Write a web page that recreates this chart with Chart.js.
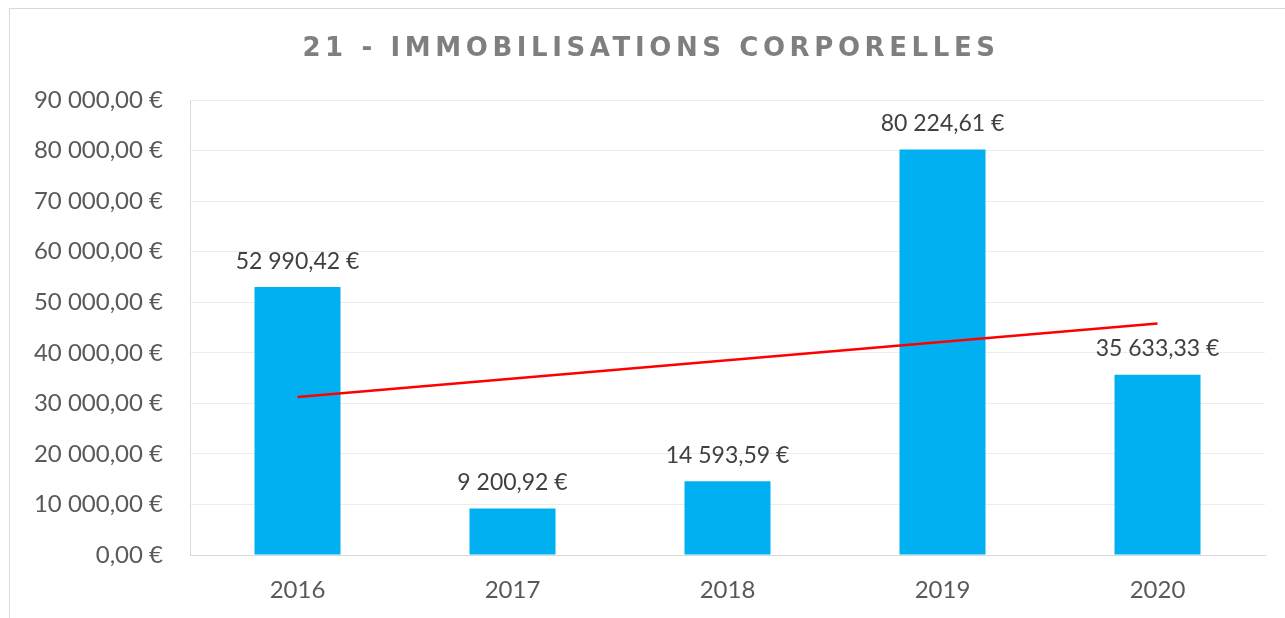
<!DOCTYPE html>
<html lang="fr">
<head>
<meta charset="utf-8">
<title>21 - Immobilisations corporelles</title>
<script src="https://cdn.jsdelivr.net/npm/chart.js@4"></script>
<style>
  html, body { margin: 0; padding: 0; background: #fff; }
  #frame {
    position: absolute; left: 9px; top: 8px;
    width: 1300px; height: 640px;
    border: 1px solid #d9d9d9;
  }
  #wrap { position: absolute; left: 0; top: 0; width: 1285px; height: 618px; }
</style>
</head>
<body>
<div id="frame"></div>
<div id="wrap"><canvas id="chart"></canvas></div>
<script>
// Data
const years = ['2016', '2017', '2018', '2019', '2020'];
const amounts = [52990.42, 9200.92, 14593.59, 80224.61, 35633.33];
// Linear trend line, end points
const trend = [31270, null, null, null, 45790];
const chartTitle = '21 - IMMOBILISATIONS CORPORELLES';
const yMax = 90000;
const yStep = 10000;

const labelFont = 'Lato';

// "52 990,42 €"
function euro(v) {
  const parts = v.toFixed(2).split('.');
  const int = parts[0].replace(/\B(?=(\d{3})+(?!\d))/g, ' ');
  return int + ',' + parts[1] + ' €';
}

/* TITLE (drawn with letter spacing) */
const titlePlugin = {
  id: 'spacedTitle',
  afterDraw(chart) {
    const ctx = chart.ctx;
    ctx.save();
    ctx.font = 'bold 26px "DejaVu Sans"';
    ctx.fillStyle = '#7f7f7f';
    ctx.textAlign = 'center';
    ctx.textBaseline = 'middle';
    ctx.letterSpacing = '4.6px';
    ctx.fillText(chartTitle, 651, 49);
    ctx.restore();
  }
};

/* VALUE LABELS above bars */
const valueLabels = {
  id: 'valueLabels',
  afterDatasetsDraw(chart) {
    const ctx = chart.ctx;
    const meta = chart.getDatasetMeta(1);
    ctx.save();
    ctx.font = '23px "' + labelFont + '"';
    ctx.fillStyle = '#404040';
    ctx.textAlign = 'center';
    ctx.textBaseline = 'middle';
    meta.data.forEach((bar, i) => {
      ctx.fillText(euro(amounts[i]), bar.x, bar.y - 26);
    });
    ctx.restore();
  }
};

document.addEventListener('DOMContentLoaded', () => {
  const ctx = document.getElementById('chart').getContext('2d');
  new Chart(ctx, {
    data: {
      labels: years,
      datasets: [
        {
          type: 'line',
          label: 'Tendance',
          data: trend,
          borderColor: '#ff0000',
          borderWidth: 2.5,
          pointRadius: 0,
          spanGaps: true,
          tension: 0,
          order: 0
        },
        {
          type: 'bar',
          label: 'Montant',
          data: amounts,
          backgroundColor: '#00b0f0',
          categoryPercentage: 1,
          barPercentage: 0.4,
          order: 1
        }
      ]
    },
    options: {
      responsive: true,
      maintainAspectRatio: false,
      animation: false,
      layout: { padding: { top: 100, right: 20, left: 0, bottom: 0 } },
      plugins: {
        legend: { display: false },
        title: { display: false },
        tooltip: { enabled: false }
      },
      scales: {
        x: {
          grid: { display: false, drawTicks: false },
          border: { color: '#d9d9d9', width: 1 },
          ticks: { color: '#595959', font: { family: labelFont, size: 24 }, padding: 21 },
          afterFit: s => { s.height = 63; }
        },
        y: {
          min: 0,
          max: yMax,
          grid: { color: '#ececec', drawTicks: false },
          border: { color: '#d9d9d9', width: 1 },
          ticks: {
            stepSize: yStep,
            color: '#595959',
            font: { family: labelFont, size: 24 },
            padding: 27,
            callback: v => euro(v)
          },
          afterFit: s => { s.width = 190; }
        }
      }
    },
    plugins: [valueLabels, titlePlugin]
  });
});
</script>
</body>
</html>
